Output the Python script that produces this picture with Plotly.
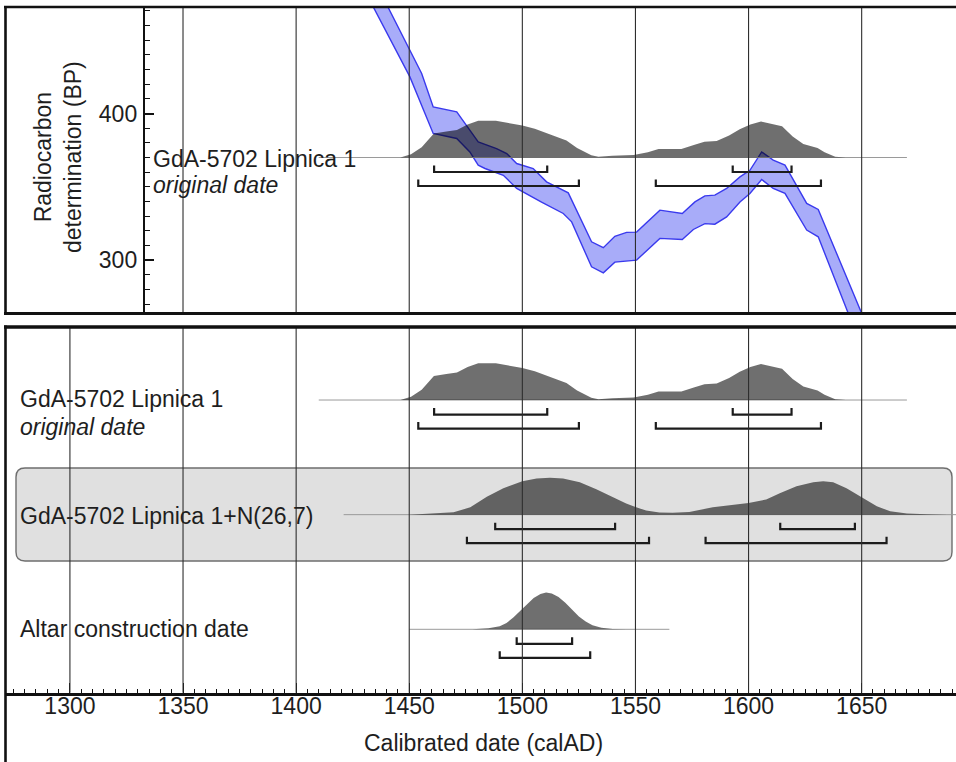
import plotly.graph_objects as go

# ---------------- data ----------------
year_ticks = [1300, 1350, 1400, 1450, 1500, 1550, 1600, 1650]
year_tick_labels = ["1300", "1350", "1400", "1450", "1500", "1550", "1600", "1650"]
bp_ticks = [300, 400]
bp_tick_labels = ["300", "400"]

# calibration curve (IntCal band), upper and lower edges
cal_upper_year = [1439.5, 1455.5, 1460.6, 1471.0, 1480.5, 1488.6, 1493.1, 1497.5, 1504.8, 1510.7,
                  1520.3, 1530.6, 1535.8, 1540.9, 1546.1, 1550.5, 1560.8, 1570.7, 1576.3, 1580.7,
                  1585.1, 1590.3, 1596.2, 1600.6, 1605.8, 1610.9, 1616.1, 1625.7, 1630.8, 1651.0]
cal_upper_bp = [476.0, 427.3, 404.5, 401.1, 380.6, 376.1, 372.7, 365.9, 362.5, 353.4,
                345.9, 312.5, 308.5, 316.2, 318.9, 319.1, 334.1, 331.8, 339.7, 343.8,
                344.3, 348.9, 356.8, 361.3, 373.8, 368.2, 364.8, 338.7, 334.6, 260.0]
cal_lower_year = [1433.0, 1450.3, 1460.6, 1471.0, 1476.8, 1480.5, 1483.5, 1491.6, 1497.5, 1508.5,
                  1518.1, 1521.8, 1530.6, 1535.8, 1540.9, 1550.5, 1560.8, 1570.7, 1575.6, 1580.7,
                  1585.1, 1590.3, 1596.2, 1600.6, 1605.8, 1610.9, 1616.1, 1625.7, 1630.8, 1645.0]
cal_lower_bp = [476.0, 425.0, 386.4, 383.0, 373.8, 364.8, 362.5, 357.9, 348.9, 339.5,
                331.8, 326.1, 295.4, 291.3, 298.6, 300.0, 314.8, 314.1, 320.9, 324.9,
                324.5, 329.5, 339.7, 345.5, 355.0, 348.9, 345.5, 320.5, 315.9, 260.0]

rc_bp = 370  # radiocarbon determination GdA-5702

# GdA-5702 Lipnica 1, original date
orig_year = [1446.1, 1450.8, 1455.5, 1460.9, 1466.4, 1471.1, 1475.8, 1480.5, 1488.3, 1493.0,
             1500.0, 1505.5, 1511.7, 1519.5, 1524.2, 1530.5, 1533.6, 1539.8, 1549.2, 1555.5,
             1560.2, 1570.3, 1575.8, 1580.5, 1585.9, 1591.4, 1596.1, 1600.8, 1605.5, 1610.2,
             1614.8, 1619.5, 1624.2, 1630.5, 1633.6, 1638.3, 1643.0]
orig_prob = [0.0, 0.09, 0.28, 0.65, 0.71, 0.75, 0.90, 1.0, 1.0, 0.95,
             0.87, 0.78, 0.64, 0.46, 0.26, 0.06, 0.02, 0.05, 0.07, 0.14,
             0.23, 0.23, 0.34, 0.43, 0.45, 0.60, 0.77, 0.90, 0.98, 0.92,
             0.85, 0.57, 0.37, 0.26, 0.14, 0.02, 0.0]
orig_span = [1410, 1670]
orig_hpd68 = [(1461, 1511), (1593, 1619)]
orig_hpd95 = [(1454, 1525), (1559, 1632)]

# GdA-5702 Lipnica 1+N(26,7)
shift_year = [1450, 1460, 1469.6, 1477, 1484.3, 1491.6, 1500, 1506.3, 1512.2, 1518,
              1525.4, 1532.7, 1540, 1545.9, 1550, 1554.7, 1560.6, 1566.4, 1573.8, 1584.2,
              1600, 1607.8, 1613.8, 1621.2, 1628.6, 1633, 1637.4, 1643.3, 1650, 1656.7,
              1662.6, 1670, 1678.8, 1688]
shift_prob = [0.0, 0.025, 0.065, 0.2, 0.49, 0.72, 0.91, 0.98, 1.0, 0.98,
              0.88, 0.69, 0.47, 0.30, 0.21, 0.11, 0.056, 0.05, 0.075, 0.2,
              0.32, 0.41, 0.58, 0.77, 0.88, 0.91, 0.88, 0.72, 0.47, 0.23,
              0.09, 0.03, 0.01, 0.0]
shift_span = [1421, 1700]
shift_hpd68 = [(1488, 1541), (1614, 1647)]
shift_hpd95 = [(1475.5, 1556), (1581, 1661)]

# Altar construction date
altar_year = [1478, 1485, 1490, 1493, 1496, 1499, 1502, 1505, 1508, 1510.5, 1513, 1516, 1519,
              1522, 1525, 1528, 1531, 1535, 1540, 1546]
altar_prob = [0.0, 0.03, 0.08, 0.17, 0.32, 0.50, 0.69, 0.85, 0.96, 1.0, 0.97, 0.88, 0.72,
              0.53, 0.35, 0.21, 0.11, 0.04, 0.01, 0.0]
altar_span = [1450, 1565]
altar_hpd68 = [(1497.5, 1522)]
altar_hpd95 = [(1490, 1530)]

row_titles = ["GdA-5702 Lipnica 1", "GdA-5702 Lipnica 1+N(26,7)", "Altar construction date"]
row_subtitle = "original date"

# ---------------- layout geometry (pixels) ----------------
W, H = 956, 762
FONT = "Liberation Sans, Arial, sans-serif"
TXT = "#1e1e1e"
FS = 23


def px_x(p):
    return p / W


def px_y(p):
    return 1 - p / H


# top panel: plot area from x=145..956, y=7..313.3
top_dom_x = [px_x(145), 1.0]
top_dom_y = [px_y(313.3), px_y(7)]
top_xr = [1333.2, 1691.7]
top_yr = [263.7, 472.7]
top_px_per_unit = (313.3 - 7) / (top_yr[1] - top_yr[0])

# bottom panel: plot area x=5..956, y=327..692.7
bot_dom_x = [px_x(5), 1.0]
bot_dom_y = [px_y(692.7), px_y(327)]
bot_xr = [1271.3, 1691.7]
bot_yr = [0.447, 3.637]
bot_px_per_unit = (692.7 - 327) / (bot_yr[1] - bot_yr[0])

DIST_H = 36.8     # px height of a probability peak
OFF68 = 14.5      # px below baseline of 68% bracket
OFF95 = 28.5      # px below baseline of 95% bracket
TICK = 6.5        # px height of bracket ends

fig = go.Figure()

# calibration curve band
fig.add_trace(go.Scatter(
    x=cal_upper_year + cal_lower_year[::-1],
    y=cal_upper_bp + cal_lower_bp[::-1],
    xaxis="x2", yaxis="y2", mode="lines", fill="toself",
    fillcolor="rgba(70,78,242,0.47)",
    line=dict(color="#3a3aee", width=1.4),
    hoverinfo="skip", showlegend=False))


def add_row(year, prob, span, hpd68, hpd95, base, ppu, xa, ya):
    # baseline thin line
    fig.add_trace(go.Scatter(x=span, y=[base, base], xaxis=xa, yaxis=ya, mode="lines",
                             line=dict(color="#9a9a9a", width=1),
                             hoverinfo="skip", showlegend=False))
    # distribution
    fig.add_trace(go.Scatter(x=year, y=[base + p * DIST_H / ppu for p in prob],
                             xaxis=xa, yaxis=ya, mode="lines", fill="toself",
                             fillcolor="rgba(0,0,0,0.565)",
                             line=dict(color="rgba(0,0,0,0)", width=0),
                             hoverinfo="skip", showlegend=False))
    # brackets
    for ranges, off in ((hpd68, OFF68), (hpd95, OFF95)):
        yb = base - off / ppu
        yt = yb + TICK / ppu
        xs, ys = [], []
        for a, b in ranges:
            xs += [a, a, b, b, None]
            ys += [yt, yb, yb, yt, None]
        fig.add_trace(go.Scatter(x=xs, y=ys, xaxis=xa, yaxis=ya, mode="lines",
                                 line=dict(color="#1c1c1c", width=2.2),
                                 hoverinfo="skip", showlegend=False))


# top panel distribution (at radiocarbon level)
add_row(orig_year, orig_prob, orig_span, orig_hpd68, orig_hpd95, rc_bp, top_px_per_unit, "x2", "y2")
# bottom rows
add_row(orig_year, orig_prob, orig_span, orig_hpd68, orig_hpd95, 3, bot_px_per_unit, "x", "y")
add_row(shift_year, shift_prob, shift_span, shift_hpd68, shift_hpd95, 2, bot_px_per_unit, "x", "y")
add_row(altar_year, altar_prob, altar_span, altar_hpd68, altar_hpd95, 1, bot_px_per_unit, "x", "y")

shapes = []
# rounded grey box behind row 2
bx0, bx1 = px_x(16), px_x(952)
by0, by1 = px_y(561), px_y(468)
rx, ry = 9 / W, 9 / H
path = (f"M {bx0+rx},{by1} L {bx1-rx},{by1} Q {bx1},{by1} {bx1},{by1-ry} "
        f"L {bx1},{by0+ry} Q {bx1},{by0} {bx1-rx},{by0} L {bx0+rx},{by0} "
        f"Q {bx0},{by0} {bx0},{by0+ry} L {bx0},{by1-ry} Q {bx0},{by1} {bx0+rx},{by1} Z")
shapes.append(dict(type="path", path=path, xref="paper", yref="paper", layer="below",
                   fillcolor="#e0e0e0", line=dict(color="#6e6e6e", width=1.4)))

# vertical grid lines (drawn over the distributions)
for t in year_ticks:
    shapes.append(dict(type="line", xref="x", yref="y domain", x0=t, x1=t, y0=0, y1=1,
                       layer="above", line=dict(color="#2e2e2e", width=1.1)))
    if top_xr[0] < t < top_xr[1]:
        shapes.append(dict(type="line", xref="x2", yref="y2 domain", x0=t, x1=t, y0=0, y1=1,
                           layer="above", line=dict(color="#2e2e2e", width=1.1)))


# panel frames
def hline(ypx, x0px, x1px, w):
    shapes.append(dict(type="line", xref="paper", yref="paper", x0=px_x(x0px), x1=px_x(x1px),
                       y0=px_y(ypx), y1=px_y(ypx), layer="above", line=dict(color="#111", width=w)))


def vline(xpx, y0px, y1px, w):
    shapes.append(dict(type="line", xref="paper", yref="paper", x0=px_x(xpx), x1=px_x(xpx),
                       y0=px_y(y0px), y1=px_y(y1px), layer="above", line=dict(color="#111", width=w)))


hline(7, 4, 960, 2.6)
hline(313.5, 4, 960, 3)
vline(5.5, 6, 315, 2.6)
hline(327, 4, 960, 3.5)
vline(5.5, 325.5, 765, 2.6)

annotations = []


def label(text, xpx, ypx, italic=False, size=FS):
    annotations.append(dict(text=f"<i>{text}</i>" if italic else text, xref="paper", yref="paper",
                            x=px_x(xpx), y=px_y(ypx), xanchor="left", yanchor="middle",
                            showarrow=False, font=dict(family=FONT, size=size, color=TXT)))


label(row_titles[0], 151, 158.7)
label(row_subtitle, 151, 185.5, italic=True)
label(row_titles[0], 18, 399)
label(row_subtitle, 18, 426.5, italic=True)
label(row_titles[1], 18, 515.5)
label(row_titles[2], 18, 628.7)

annotations.append(dict(text="Radiocarbon<br>determination (BP)", xref="paper", yref="paper",
                        x=px_x(58), y=px_y(157), xanchor="center", yanchor="middle",
                        textangle=-90, showarrow=False,
                        font=dict(family=FONT, size=FS, color=TXT)))
annotations.append(dict(text="Calibrated date (calAD)", xref="paper", yref="paper",
                        x=px_x(483), y=px_y(743), xanchor="center", yanchor="middle",
                        showarrow=False, font=dict(family=FONT, size=FS, color=TXT)))

fig.update_layout(
    width=W, height=H,
    margin=dict(l=0, r=0, t=0, b=0),
    paper_bgcolor="white", plot_bgcolor="rgba(0,0,0,0)",
    showlegend=False,
    font=dict(family=FONT, size=FS, color=TXT),
    shapes=shapes, annotations=annotations,
    xaxis=dict(domain=bot_dom_x, range=bot_xr, anchor="y",
               tickmode="array", tickvals=year_ticks, ticktext=year_tick_labels,
               ticks="inside", ticklen=10, tickwidth=1.4, tickcolor="#111",
               minor=dict(tickmode="linear", tick0=1300, dtick=5, ticks="inside",
                          ticklen=4, tickwidth=1, tickcolor="#111", showgrid=False),
               showline=True, linecolor="#111", linewidth=3, showgrid=False, zeroline=False,
               tickfont=dict(family=FONT, size=FS, color=TXT), ticklabelstandoff=-9),
    yaxis=dict(domain=bot_dom_y, range=bot_yr, anchor="x", visible=False,
               showgrid=False, zeroline=False),
    xaxis2=dict(domain=top_dom_x, range=top_xr, anchor="y2", visible=False,
                showgrid=False, zeroline=False),
    yaxis2=dict(domain=top_dom_y, range=top_yr, anchor="x2",
                tickmode="array", tickvals=bp_ticks, ticktext=bp_tick_labels,
                ticks="inside", ticklen=9, tickwidth=1.6, tickcolor="#111",
                minor=dict(tickmode="linear", tick0=300, dtick=10, ticks="inside",
                           ticklen=5, tickwidth=1, tickcolor="#111", showgrid=False),
                showline=True, linecolor="#111", linewidth=2.4, showgrid=False, zeroline=False,
                tickfont=dict(family=FONT, size=FS, color=TXT), ticklabelstandoff=1),
)

fig.write_html(
    "out.html",
    config={"displayModeBar": False},
    post_script="document.body.style.margin='0';document.body.style.overflow='hidden';",
)
